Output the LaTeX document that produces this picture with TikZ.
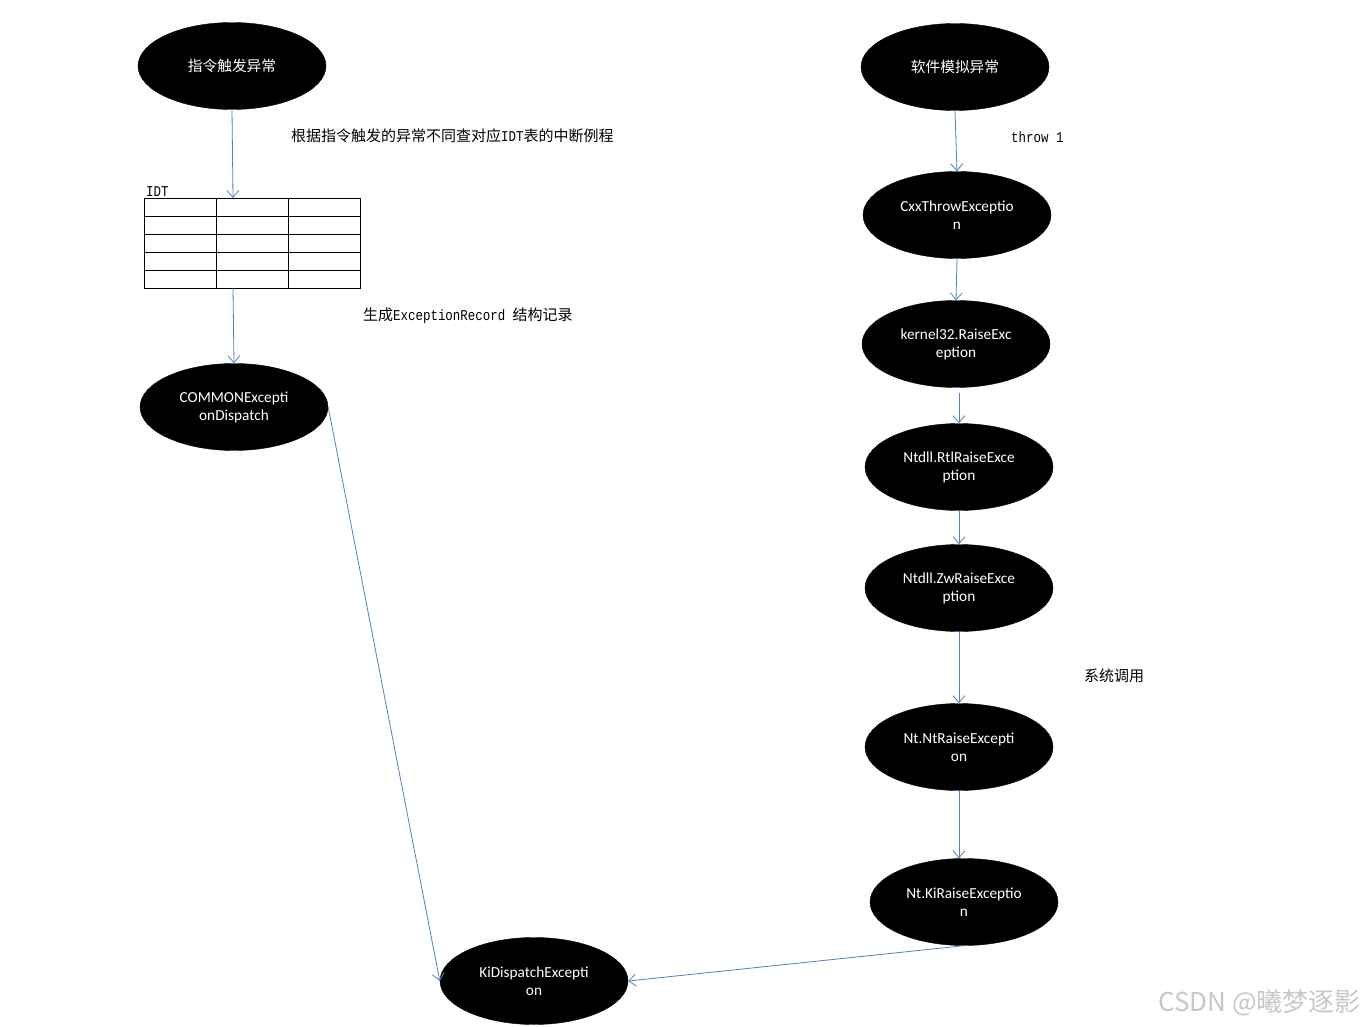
\documentclass[tikz,border=0pt]{standalone}
\usepackage{fontspec}
\setmainfont{Carlito}
\newfontfamily\cjk{Noto Sans CJK SC}
\newfontfamily\lat{Liberation Mono}[FakeStretch=0.83]
\usetikzlibrary{arrows.meta,shapes.geometric}
\definecolor{lineblue}{HTML}{4F81BD}
\tikzset{
  proc/.style={ellipse, fill=black, draw=black, minimum width=188pt, minimum height=87pt, inner sep=0pt,
    text=white, align=center, font=\fontsize{15.3}{18}\selectfont},
  flow/.style={draw=lineblue, line width=0.8pt, -{Straight Barb[length=7pt,width=12pt,line width=0.8pt]}},
  note/.style={anchor=west, inner sep=0pt, font=\fontsize{15}{17}\selectfont\cjk},
  cell/.style={draw=black, line width=0.8pt}
}
\newcommand{\hw}[1]{{\lat\fontsize{15}{17}\selectfont #1}}
\begin{document}
\begin{tikzpicture}[x=1pt,y=-1pt]
\useasboundingbox (0,0) rectangle (1369,1027);
% left column
\node[proc, font=\fontsize{14.7}{18}\selectfont\cjk] (trig) at (232,66) {指令触发异常};
\node[rectangle, draw=black, line width=0.8pt, minimum width=216pt, minimum height=90pt, inner sep=0pt] (idt) at (252,243) {};
\foreach \xx in {216,288} \draw[cell] (\xx,198) -- (\xx,288);
\foreach \yy in {216,234,252,270} \draw[cell] (144,\yy) -- (360,\yy);
\node[anchor=south west, inner sep=0pt, font=\fontsize{15}{17}\selectfont\lat] (idtlab) at (146,197) {IDT};
\coordinate (idtin) at (233,198);
\coordinate (idtout) at (233,288);
\node[proc] (common) at (234,407) {COMMONExcepti\\onDispatch};
\node[proc] (kid) at (534,981) {KiDispatchExcepti\\on};
% right column
\node[proc, font=\fontsize{14.7}{18}\selectfont\cjk] (soft) at (955,67) {软件模拟异常};
\node[proc] (cxx) at (957,215) {CxxThrowExceptio\\n};
\node[proc] (k32) at (956,344) {kernel32.RaiseExc\\eption};
\node[proc] (rtl) at (959,467) {Ntdll.RtlRaiseExce\\ption};
\node[proc] (zw) at (959,588) {Ntdll.ZwRaiseExce\\ption};
\node[proc] (ntr) at (959,747) {Nt.NtRaiseExcepti\\on};
\node[proc] (kir) at (964,902) {Nt.KiRaiseExceptio\\n};
% notes
\node[note] (n1) at (291,136) {根据指令触发的异常不同查对应\hw{IDT}表的中断例程};
\node[note] (n2) at (363,316) {生成\hw{ExceptionRecord }结构记录};
\node[note, font=\fontsize{15}{17}\selectfont\lat] (n3) at (1011,137) {throw 1};
\node[note] (n4) at (1084,676) {系统调用};
\node[anchor=west, inner sep=0pt, text=black!22, font=\fontsize{26}{28}\selectfont\cjk] (wm) at (1158,1003) {CSDN @曦梦逐影};
% connectors
\draw[flow] (trig.south) -- (idtin);
\draw[flow] (idtout) -- (common.north);
\draw[flow] (common.east) -- (kid.west);
\draw[flow] (soft.south) -- (cxx.north);
\draw[flow] (cxx.south) -- (k32.north);
\draw[flow] ([yshift=-5pt]rtl.north |- k32.south) -- (rtl.north);
\draw[flow] (rtl.south) -- (zw.north);
\draw[flow] (zw.south) -- (ntr.north);
\draw[flow] (ntr.south) -- (ntr.south |- kir.north);
\draw[flow] (kir.south) -- (kid.east);
\end{tikzpicture}
\end{document}
